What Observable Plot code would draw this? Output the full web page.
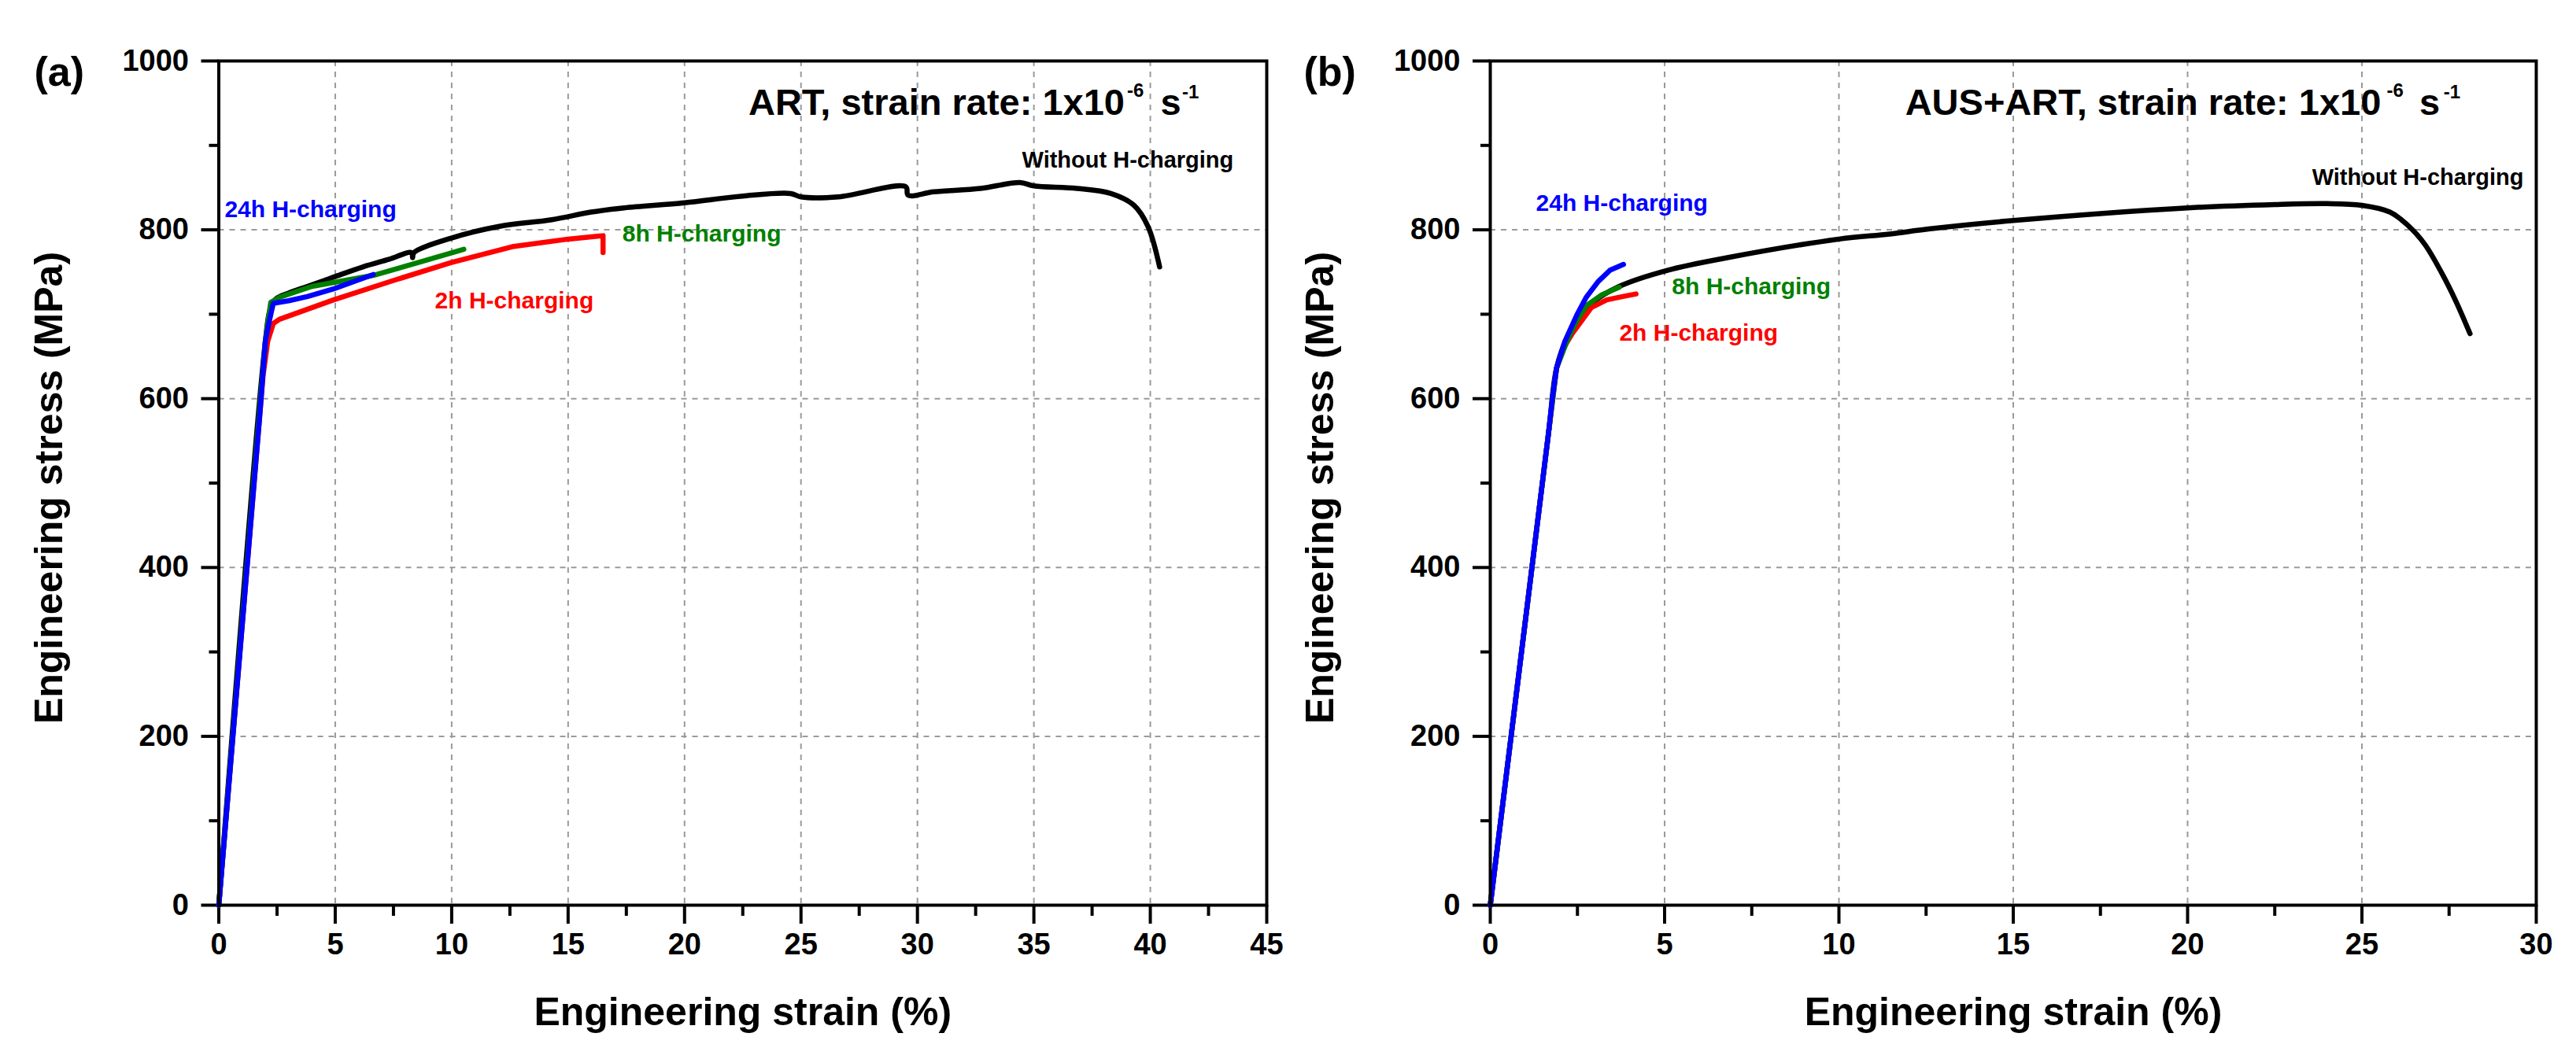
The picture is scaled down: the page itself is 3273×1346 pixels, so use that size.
<!DOCTYPE html>
<html>
<head>
<meta charset="utf-8">
<script src="https://cdn.jsdelivr.net/npm/d3@7"></script>
<script src="https://cdn.jsdelivr.net/npm/@observablehq/plot@0.6"></script>
<style>
  html, body { margin: 0; padding: 0; background: #ffffff; }
  #wrap { display: flex; width: 3273px; height: 1346px; }
  #wrap svg { display: block; }
</style>
</head>
<body>
<div id="wrap"></div>
<script>
// ---------- Panel (a): ART ----------
const aBlackStrain = [0, 2.0, 2.2, 2.45, 3.0, 3.81, 4.93, 6.18, 7.3, 8.28, 8.32, 8.38, 9.96, 12.04, 14.3, 15.99, 17.4, 20, 22.5, 24.55, 25.0, 26.6, 29.5, 29.6, 30.7, 32.7, 34.4, 35.0, 36.85, 38.3, 39.3, 39.9, 40.4];
const aBlackStress = [0, 668, 705, 718, 725, 733, 744, 756, 765, 773, 767, 773, 790, 804, 812, 821, 826, 832, 840, 843, 839, 839, 851, 841, 845, 849, 856, 852, 849, 843, 829, 804, 756];
const aRedStrain   = [0, 1.9, 2.1, 2.34, 2.6, 4.93, 7.5, 9.96, 12.6, 15.0, 16.5, 16.5];
const aRedStress   = [0, 627, 668, 689, 694, 717, 740, 761, 780, 789, 793, 773];
const aGreenStrain = [0, 2.0, 2.23, 2.6, 4.0, 6.63, 8.54, 10.52];
const aGreenStress = [0, 668, 714, 720, 733, 746, 761, 777];
const aBlueStrain  = [0, 1.78, 2.0, 2.17, 2.34, 3.0, 3.81, 4.93, 6.63];
const aBlueStress  = [0, 587, 668, 692, 713, 716, 721, 730, 747];

// ---------- Panel (b): AUS+ART ----------
const bBlackStrain = [0, 1.67, 1.9, 2.2, 2.6, 3.0, 3.7, 5.08, 6.8, 10, 11.45, 12.57, 15, 20, 22.5, 24, 25, 25.8, 26.3, 26.8, 27.3, 27.7, 28.1];
const bBlackStress = [0, 559, 636, 672, 700, 716, 733, 752, 767, 789, 795, 801, 811, 826, 830, 831, 829, 821, 806, 783, 748, 715, 677];
const bGreenStrain = [0, 1.67, 1.9, 2.2, 2.45, 2.75, 3.2, 3.7];
const bGreenStress = [0, 559, 636, 668, 690, 710, 723, 732];
const bRedStrain   = [0, 1.67, 1.9, 2.1, 2.35, 2.9, 3.34, 3.8, 4.18];
const bRedStress   = [0, 559, 636, 660, 677, 708, 717, 721, 724];
const bBlueStrain  = [0, 1.67, 1.78, 1.9, 2.14, 2.48, 2.75, 3.1, 3.43, 3.82];
const bBlueStress  = [0, 559, 600, 636, 668, 699, 720, 739, 752, 759];

// ---------- Ticks ----------
const aXMajor = [0, 5, 10, 15, 20, 25, 30, 35, 40, 45];
const aXMinor = [2.5, 7.5, 12.5, 17.5, 22.5, 27.5, 32.5, 37.5, 42.5];
const aXGrid  = [5, 10, 15, 20, 25, 30, 35, 40];
const bXMajor = [0, 5, 10, 15, 20, 25, 30];
const bXMinor = [2.5, 7.5, 12.5, 17.5, 22.5, 27.5];
const bXGrid  = [5, 10, 15, 20, 25];
const yMajor  = [0, 200, 400, 600, 800, 1000];
const yMinor  = [100, 300, 500, 700, 900];
const yGrid   = [200, 400, 600, 800];

// ---------- Text ----------
const xLabel = "Engineering strain (%)";
const yLabel = "Engineering stress (MPa)";
const seriesNames = ["Without H-charging", "2h H-charging", "8h H-charging", "24h H-charging"];
const seriesColors = ["#000000", "#ff0000", "#008000", "#0000ff"];

// annotation anchors in data units [strain, stress]
const aLabelPos = [[34.49, 874], [9.28, 707], [17.33, 786], [0.25, 815]];
const bLabelPos = [[23.57, 853], [3.70, 669], [5.21, 724], [1.31, 822]];
const aTitle = [
  {text: "ART, strain rate: 1x10", x: 38.9, y: 936, size: 47, anchor: "end"},
  {text: "-6", x: 39.0, y: 958, size: 24, anchor: "start"},
  {text: "s", x: 40.44, y: 936, size: 47, anchor: "start"},
  {text: "-1", x: 41.37, y: 956, size: 24, anchor: "start"}
];
const bTitle = [
  {text: "AUS+ART, strain rate: 1x10", x: 25.55, y: 936, size: 47, anchor: "end"},
  {text: "-6", x: 25.71, y: 958, size: 24, anchor: "start"},
  {text: "s", x: 26.65, y: 936, size: 47, anchor: "start"},
  {text: "-1", x: 27.34, y: 956, size: 24, anchor: "start"}
];

const toRows = (xs, ys) => xs.map((x, i) => ({strain: x, stress: ys[i]}));

function panel(opts) {
  const {width, marginLeft, marginRight, xMax, xMajor, xMinor, xGrid, series, labelPos, title, tag} = opts;
  const marks = [
    Plot.gridX(xGrid, {stroke: "#9a9a9a", strokeOpacity: 1, strokeWidth: 2, strokeDasharray: "7,7"}),
    Plot.gridY(yGrid, {stroke: "#9a9a9a", strokeOpacity: 1, strokeWidth: 2, strokeDasharray: "7,7"}),
    Plot.axisX(xMajor, {tickSize: 24, tickPadding: 12, strokeWidth: 4, tickFormat: d => String(d), label: null, fontSize: 38}),
    Plot.axisX(xMinor, {tickSize: 14, strokeWidth: 4, tickFormat: () => "", label: null}),
    Plot.axisY(yMajor, {tickSize: 22, tickPadding: 16, strokeWidth: 4, tickFormat: d => String(d), label: null, fontSize: 38}),
    Plot.axisY(yMinor, {tickSize: 12, strokeWidth: 4, tickFormat: () => "", label: null}),
  ];
  // draw order: black, red, green, blue
  series.forEach((s, i) => {
    marks.push(Plot.line(toRows(s[0], s[1]), {
      x: "strain", y: "stress", stroke: seriesColors[i], strokeWidth: 6.5,
      strokeLinejoin: "round", strokeLinecap: "round",
      curve: i === 0 ? "catmull-rom" : "linear"
    }));
  });
  marks.push(Plot.frame({stroke: "#000", strokeWidth: 4}));
  // series annotations
  const ann = seriesNames.map((t, i) => ({text: t, strain: labelPos[i][0], stress: labelPos[i][1], color: seriesColors[i], size: i === 0 ? 29 : 30}));
  ann.forEach(a => marks.push(Plot.text([a], {x: "strain", y: "stress", text: "text", fill: a.color, fontSize: a.size, textAnchor: "start", lineAnchor: "bottom"})));
  // title pieces
  title.forEach(p => marks.push(Plot.text([p], {x: "x", y: "y", text: "text", fill: "#000", fontSize: p.size, textAnchor: p.anchor, lineAnchor: "bottom"})));
  // axis labels and panel tag
  marks.push(Plot.text([xLabel], {frameAnchor: "bottom", textAnchor: "middle", lineAnchor: "bottom", dy: 152, fontSize: 50, fill: "#000"}));
  marks.push(Plot.text([yLabel], {frameAnchor: "left", rotate: -90, textAnchor: "middle", lineAnchor: "bottom", dx: -199.5, dy: 6, fontSize: 50, fill: "#000"}));
  marks.push(Plot.text([tag.text], {frameAnchor: "top-left", textAnchor: "start", lineAnchor: "bottom", dx: tag.dx, dy: 31, fontSize: 52, fill: "#000"}));

  return Plot.plot({
    width, height: 1346,
    marginLeft, marginRight, marginTop: 77, marginBottom: 196,
    style: {fontFamily: "'Liberation Sans', Arial, sans-serif", fontWeight: "bold", fontSize: "38px", color: "#000", background: "#fff", overflow: "visible"},
    x: {domain: [0, xMax], label: null},
    y: {domain: [0, 1000], label: null},
    marks
  });
}

const wrap = document.getElementById("wrap");
wrap.appendChild(panel({
  width: 1636, marginLeft: 277.5, marginRight: 27, xMax: 45,
  xMajor: aXMajor, xMinor: aXMinor, xGrid: aXGrid,
  series: [[aBlackStrain, aBlackStress], [aRedStrain, aRedStress], [aGreenStrain, aGreenStress], [aBlueStrain, aBlueStress]],
  labelPos: aLabelPos, title: aTitle, tag: {text: "(a)", dx: -234.5}
}));
wrap.appendChild(panel({
  width: 1637, marginLeft: 257, marginRight: 51, xMax: 30,
  xMajor: bXMajor, xMinor: bXMinor, xGrid: bXGrid,
  series: [[bBlackStrain, bBlackStress], [bRedStrain, bRedStress], [bGreenStrain, bGreenStress], [bBlueStrain, bBlueStress]],
  labelPos: bLabelPos, title: bTitle, tag: {text: "(b)", dx: -237}
}));
</script>
</body>
</html>
